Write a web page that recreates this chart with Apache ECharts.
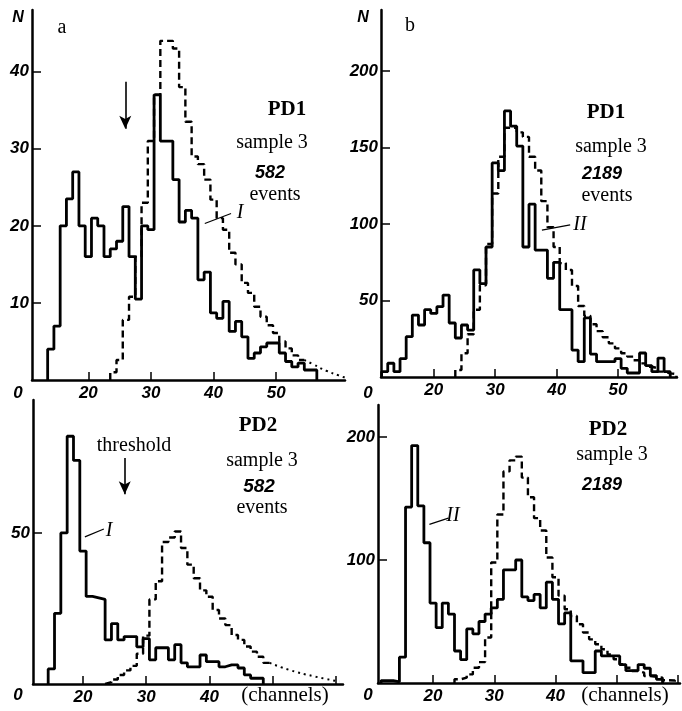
<!DOCTYPE html>
<html><head><meta charset="utf-8">
<script src="https://cdn.jsdelivr.net/npm/echarts@6/dist/echarts.min.js"></script>
<style>html,body{margin:0;padding:0;background:#fff}#c{width:682px;height:711px}</style>
</head><body><div id="c"></div>
<script>
// ---------- DATA (counts per channel, bins one channel wide) ----------
// Panel a, PD1 (top left)
const tlSolidStart = 14;
const tlSolid = [4,7,20,23.5,27,20,16,21,20,16,17,18,22.5,16,10.5,20,19.5,37,31,31,26,20.5,22,21,13,14,8.7,8,10.2,6.3,7.6,5.6,2.8,3.5,4.3,4.8,4.8,3.5,2.4,1.7,2.2,1.3,1.3];
const tlDashStart = 24;
const tlDash = [1,2.6,7.8,10.8,16,23,31,37,44,44,43,38,33.5,29,28,26,23.4,21,19.5,16.5,15,12.6,11.3,9.5,8.2,7.1,6.1,5,4.1,3.2,2.6];
const tlTail = [[54.5,2.6],[56,2.0],[58,1.2],[60,0.6],[61,0.3]];
// Panel b, PD1 (top right)
const trSolidStart = 12;
const trSolid = [3.5,9,3.5,12,26.4,40.5,34,44,41.6,46,53.6,35.3,25.5,34,30.7,70,61,85,140,135,174,164,151,85,113,83,83,64.5,75,44,44,17.6,10,38.6,15,10,10,10,12,5.7,2.6,2.6,15.7,7.4,3.5,12.4,3.5];
const trDashStart = 24;
const trDash = [4.6,15.5,28,44,60,87,120,144,163,163,160,157,144,135,115,98,85,74.5,70,59.5,46.4,40,34.5,30,26,22,18.7,15.5,13.3,11,8.9,6.7,5.7,3.5,2.4,2];
// Panel a, PD2 (bottom left)
const blSolidStart = 15;
const blSolid = [5,23.4,50,82,74,44,29,28.5,28,14.6,20,14.6,15.7,15.7,12.3,15,8,12,12,8,13,7,5.7,5.7,9.6,7.4,7.4,5.7,6.3,6.3,5.3,3,1.9,1.9];
const blDashStart = 24;
const blDash = [0.6,1.5,3,4.5,6,10,16,28,34,47,48.5,50.5,45,39.5,35,31,28.9,24.5,21.7,19.5,16.2,14.6,12.4,10.7,9,7];
const blTail = [[49.5,7],[52.7,4.6],[56.4,2.6],[60.5,0.8]];
// Panel b, PD2 (bottom right)
const brSolidStart = 12;
const brSolid = [2,2,1,21,143,193,144,114,65,45,65,56,26,19,44,40,50,56,61,68,92,92,100,70,67,72,61,82,68,48,57,18,18,8.4,8.4,26,22,22,22,15,10,10,15,12,6,3];
const brDashStart = 24;
const brDash = [3,4.3,7,12.4,17,37,98,137,172,181,184,167,151,134,124,102,86,71,60,54.5,47.7,41,35.5,31.5,27.4,23.3,19.3,15.2,12.4,9.8,8.4,5.7,5,4.3,2.2,2];

// Tick values / labels
const tlYTicks = [10,20,30,40];
const trYTicks = [50,100,150,200];
const blYTicks = [50];
const brYTicks = [100,200];
const topXTicks = [20,30,40,50];
const botXTicks = [20,30,40,50,60];
const botXLabels = [20,30,40];

// ---------- helpers ----------
const SERIF = '"Liberation Serif","Times New Roman",serif';
const SANS = '"Liberation Sans",Arial,sans-serif';

function steps(start, vals, close) {
  const pts = [[start - 0.5, 0]];
  vals.forEach((v, i) => { pts.push([start - 0.5 + i, v]); pts.push([start + 0.5 + i, v]); });
  if (close) pts.push([start - 0.5 + vals.length, 0]);
  return pts;
}
function xAx(gi, min, max, ticks, labels) {
  return { type:'value', gridIndex:gi, min, max,
    axisLine:{show:true, onZero:false, lineStyle:{color:'#000', width:2.5}},
    axisTick:{show:true, inside:true, length:8, customValues:ticks, lineStyle:{color:'#000', width:1.5}},
    axisLabel:{show:true, customValues:labels, margin:5, color:'#000', fontFamily:SANS, fontStyle:'italic', fontWeight:'bold', fontSize:17},
    splitLine:{show:false} };
}
function yAx(gi, max, ticks) {
  return { type:'value', gridIndex:gi, min:0, max,
    axisLine:{show:true, onZero:false, lineStyle:{color:'#000', width:2.5}},
    axisTick:{show:true, inside:true, length:9, customValues:ticks, lineStyle:{color:'#000', width:1.5}},
    axisLabel:{show:true, customValues:ticks, margin:3, color:'#000', fontFamily:SANS, fontStyle:'italic', fontWeight:'bold', fontSize:17},
    splitLine:{show:false} };
}
function solid(gi, pts, extra) {
  return Object.assign({ type:'line', xAxisIndex:gi, yAxisIndex:gi, data:pts, symbol:'none', silent:true,
    lineStyle:{color:'#000', width:2.8}, z:3 }, extra || {});
}
function dashed(gi, pts, extra) {
  return Object.assign({ type:'line', xAxisIndex:gi, yAxisIndex:gi, data:pts, symbol:'none', silent:true,
    lineStyle:{color:'#000', width:2.4, type:[7,4]}, z:2 }, extra || {});
}
function dotted(gi, pts) {
  return { type:'line', xAxisIndex:gi, yAxisIndex:gi, data:pts, symbol:'none', silent:true, smooth:true,
    lineStyle:{color:'#000', width:2, type:[2,4]}, z:2 };
}
function leader(a, b) {
  return { silent:true, symbol:['none','none'], label:{show:false}, animation:false,
    lineStyle:{color:'#000', width:1.2, type:'solid'}, data:[[{coord:a},{coord:b}]] };
}
function arrow(a, b) {
  return { silent:true, symbol:['none','arrow'], symbolSize:[9,13], label:{show:false}, animation:false,
    lineStyle:{color:'#000', width:1.6, type:'solid'}, data:[[{coord:a},{coord:b}]] };
}
function txt(t, x, y, font, extra) {
  return { type:'text', x, y, silent:true, style:Object.assign({ text:t, font, fill:'#000', align:'center', verticalAlign:'middle' }, extra || {}) };
}

const chart = echarts.init(document.getElementById('c'), null, {renderer:'canvas'});
chart.setOption({
  animation:false,
  backgroundColor:'#fff',
  grid:[
    {left:32, top:10, width:313, height:370},
    {left:381, top:10, width:296, height:367},
    {left:33, top:400, width:310, height:284},
    {left:378, top:405, width:302, height:278}
  ],
  xAxis:[
    xAx(0, 11, 61, topXTicks, topXTicks),
    xAx(1, 11.4, 59.6, topXTicks, topXTicks),
    xAx(2, 12.1, 61.1, botXTicks, botXLabels),
    xAx(3, 11.0, 60.35, botXTicks, botXLabels)
  ],
  yAxis:[
    yAx(0, 48, tlYTicks),
    yAx(1, 240, trYTicks),
    yAx(2, 94, blYTicks),
    yAx(3, 226, brYTicks)
  ],
  series:[
    solid(0, steps(tlSolidStart, tlSolid, true), {markLine: leader([38.6,20.3],[42.8,21.6])}),
    dashed(0, steps(tlDashStart, tlDash, false), {markLine: arrow([25.9,38.7],[25.9,32.6])}),
    dotted(0, tlTail),
    solid(1, steps(trSolidStart, trSolid, true), {markLine: leader([37.6,96],[42.2,99.5])}),
    dashed(1, steps(trDashStart, trDash, true)),
    solid(2, steps(blSolidStart, blSolid, true), {markLine: leader([20.3,48.7],[23.3,51.3])}),
    dashed(2, steps(blDashStart, blDash, false), {markLine: arrow([26.6,74.8],[26.6,62.8])}),
    dotted(2, blTail),
    solid(3, steps(brSolidStart, brSolid, true), {markLine: leader([19.4,129],[22.5,134])}),
    dashed(3, steps(brDashStart, brDash, true))
  ],
  graphic:[
    txt('N', 18, 18, 'italic bold 16px ' + SANS),
    txt('N', 363, 18, 'italic bold 16px ' + SANS),
    txt('a', 62, 28, '20px ' + SERIF),
    txt('b', 410, 26, '20px ' + SERIF),
    txt('0', 18, 393, 'italic bold 17px ' + SANS),
    txt('0', 368, 393, 'italic bold 17px ' + SANS),
    txt('0', 18, 695, 'italic bold 17px ' + SANS),
    txt('0', 368, 695, 'italic bold 17px ' + SANS),
    txt('(channels)', 285, 695, '21px ' + SERIF),
    txt('(channels)', 625, 695, '21px ' + SERIF),
    txt('PD1', 287, 110, 'bold 21px ' + SERIF),
    txt('sample 3', 272, 143, '20px ' + SERIF),
    txt('582', 270, 173, 'italic bold 18px ' + SANS),
    txt('events', 275, 195, '20px ' + SERIF),
    txt('I', 240, 213, 'italic 20px ' + SERIF),
    txt('PD1', 606, 113, 'bold 21px ' + SERIF),
    txt('sample 3', 611, 147, '20px ' + SERIF),
    txt('2189', 602, 174, 'italic bold 18px ' + SANS),
    txt('events', 607, 196, '20px ' + SERIF),
    txt('II', 580, 225, 'italic 20px ' + SERIF),
    txt('PD2', 258, 426, 'bold 21px ' + SERIF),
    txt('threshold', 134, 446, '20px ' + SERIF),
    txt('sample 3', 262, 461, '20px ' + SERIF),
    txt('582', 259, 487, 'italic bold 19px ' + SANS),
    txt('events', 262, 508, '20px ' + SERIF),
    txt('I', 109, 531, 'italic 20px ' + SERIF),
    txt('PD2', 608, 430, 'bold 21px ' + SERIF),
    txt('sample 3', 612, 455, '20px ' + SERIF),
    txt('2189', 602, 485, 'italic bold 18px ' + SANS),
    txt('II', 453, 516, 'italic 20px ' + SERIF)
  ]
});
</script>
</body></html>
